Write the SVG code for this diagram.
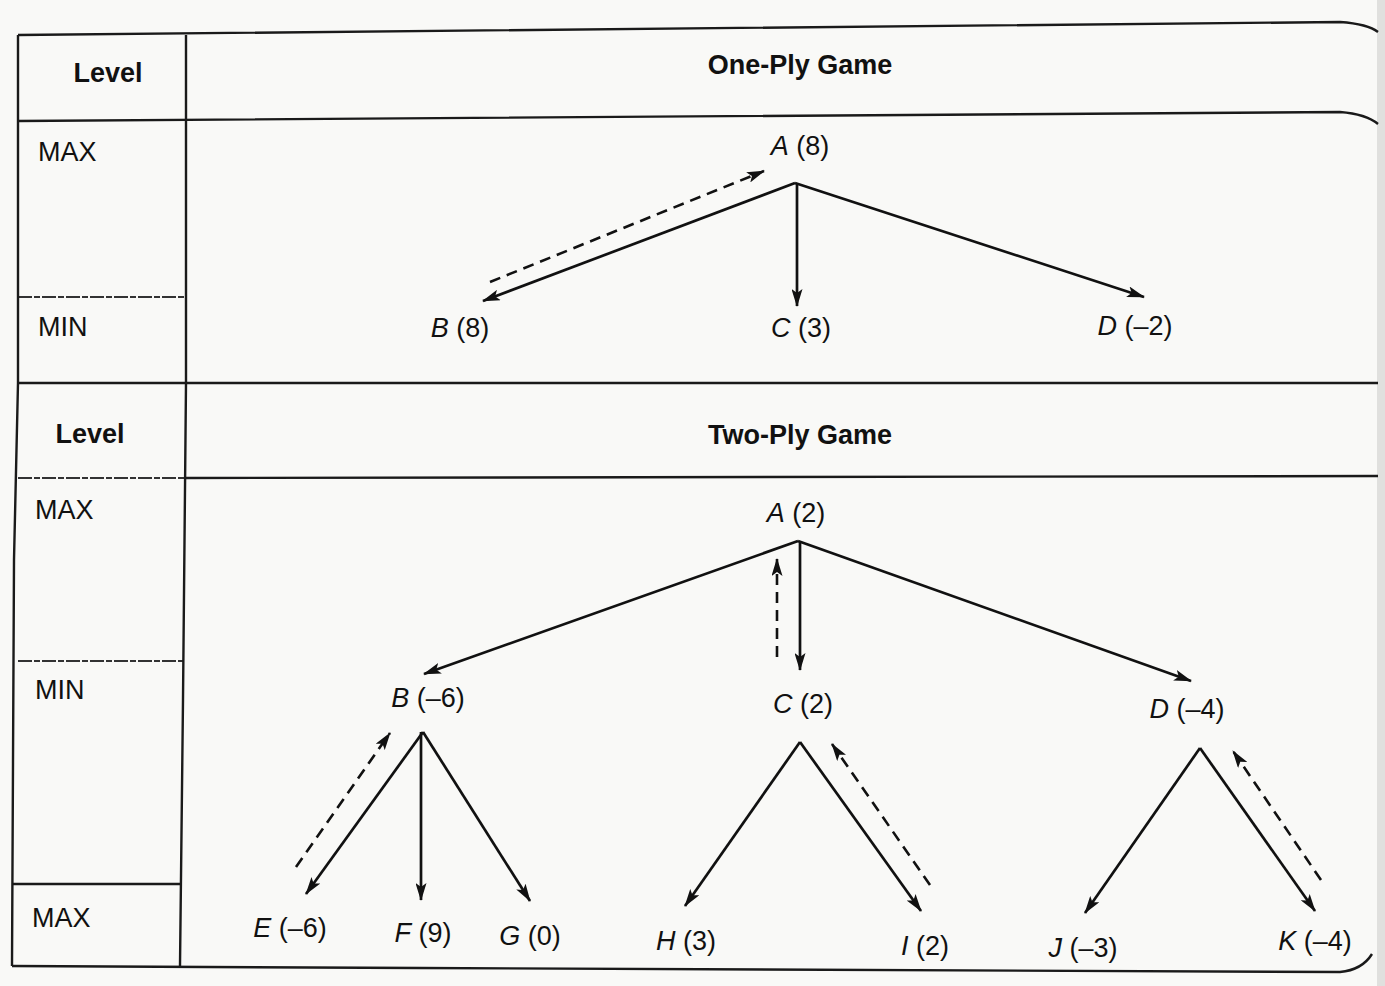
<svg xmlns="http://www.w3.org/2000/svg" width="1385" height="986" viewBox="0 0 1385 986">
  <defs>
    <marker id="head" viewBox="0 0 18 11" refX="17" refY="5.5" markerWidth="18" markerHeight="11" markerUnits="userSpaceOnUse" orient="auto">
      <path d="M0,0 L18,5.5 L0,11 L4,5.5 Z" fill="#111"/>
    </marker>
    <style>
      .grid { stroke: #1a1a1a; stroke-width: 2.4; fill: none; }
      .gridlt { stroke: #333; stroke-width: 1.8; fill: none; stroke-dasharray: 14 2 6 2; }
      .edge { stroke: #111; stroke-width: 2.7; fill: none; marker-end: url(#head); }
      .back { stroke: #111; stroke-width: 2.6; fill: none; stroke-dasharray: 11 7; marker-end: url(#head); }
      text { font-family: "Liberation Sans", Arial, Helvetica, sans-serif; font-size: 27px; fill: #111; }
      .hd { font-weight: bold; font-size: 27px; }
      .node { text-anchor: middle; }
      .it { font-style: italic; }
    </style>
  </defs>

  <!-- paper -->
  <rect x="0" y="0" width="1385" height="986" fill="#f9f9f7"/>
  <rect x="1377" y="0" width="8" height="986" fill="#e0e0de"/>

  <!-- table frame -->
  <g id="table">
    <path class="grid" d="M18,35 L1340,22 Q1368,24 1378,32"/>
    <path class="grid" d="M18,121 L1340,112 Q1366,114 1378,124"/>
    <path class="grid" d="M18,383 L1378,383"/>
    <path class="grid" d="M186,478 L1378,476"/>
    <path class="gridlt" d="M18,478 L186,478"/>
    <path class="gridlt" d="M18,297 L186,297"/>
    <path class="gridlt" d="M18,661 L184,661"/>
    <path class="grid" d="M12,884 L181,884"/>
    <path class="grid" d="M18,35 L18,383 L14,560 L12,966"/>
    <path class="grid" d="M186,35 L186,383 L183,700 L180,966"/>
    <path class="grid" d="M12,966 L420,968 L1340,972 Q1362,970 1372,954"/>
  </g>

  <!-- column and level labels -->
  <g id="labels">
    <text class="hd" x="108" y="82" text-anchor="middle">Level</text>
    <text class="hd" x="800" y="74" text-anchor="middle">One-Ply Game</text>
    <text x="38" y="161">MAX</text>
    <text x="38" y="336">MIN</text>
    <text class="hd" x="90" y="443" text-anchor="middle">Level</text>
    <text class="hd" x="800" y="444" text-anchor="middle">Two-Ply Game</text>
    <text x="35" y="519">MAX</text>
    <text x="35" y="699">MIN</text>
    <text x="32" y="927">MAX</text>
  </g>

  <!-- connectors -->
  <g id="connectors">
    <!-- one-ply -->
    <line class="edge" x1="795" y1="183" x2="483" y2="301"/>
    <line class="edge" x1="797" y1="183" x2="797" y2="306"/>
    <line class="edge" x1="795" y1="183" x2="1144" y2="297"/>
    <line class="back" x1="490" y1="282" x2="764" y2="171"/>
    <!-- two-ply, root -->
    <line class="edge" x1="798" y1="541" x2="424" y2="674"/>
    <line class="edge" x1="800" y1="541" x2="800" y2="670"/>
    <line class="edge" x1="798" y1="541" x2="1191" y2="681"/>
    <line class="back" x1="777" y1="657" x2="777" y2="559"/>
    <!-- B subtree -->
    <line class="edge" x1="423" y1="732" x2="306" y2="894"/>
    <line class="edge" x1="421" y1="732" x2="421" y2="900"/>
    <line class="edge" x1="423" y1="732" x2="530" y2="901"/>
    <line class="back" x1="296" y1="867" x2="390" y2="733"/>
    <!-- C subtree -->
    <line class="edge" x1="800" y1="742" x2="685" y2="906"/>
    <line class="edge" x1="800" y1="742" x2="921" y2="911"/>
    <line class="back" x1="930" y1="885" x2="832" y2="744"/>
    <!-- D subtree -->
    <line class="edge" x1="1200" y1="748" x2="1085" y2="913"/>
    <line class="edge" x1="1200" y1="748" x2="1315" y2="911"/>
    <line class="back" x1="1321" y1="880" x2="1233" y2="751"/>
  </g>

  <!-- one-ply nodes -->
  <g id="n1-A"><text class="node" x="800" y="155"><tspan class="it">A</tspan> (8)</text></g>
  <g id="n1-B"><text class="node" x="460" y="337"><tspan class="it">B</tspan> (8)</text></g>
  <g id="n1-C"><text class="node" x="801" y="337"><tspan class="it">C</tspan> (3)</text></g>
  <g id="n1-D"><text class="node" x="1135" y="335"><tspan class="it">D</tspan> (–2)</text></g>

  <!-- two-ply nodes -->
  <g id="n2-A"><text class="node" x="796" y="522"><tspan class="it">A</tspan> (2)</text></g>
  <g id="n2-B"><text class="node" x="428" y="707"><tspan class="it">B</tspan> (–6)</text></g>
  <g id="n2-C"><text class="node" x="803" y="713"><tspan class="it">C</tspan> (2)</text></g>
  <g id="n2-D"><text class="node" x="1187" y="718"><tspan class="it">D</tspan> (–4)</text></g>
  <g id="n2-E"><text class="node" x="290" y="937"><tspan class="it">E</tspan> (–6)</text></g>
  <g id="n2-F"><text class="node" x="423" y="942"><tspan class="it">F</tspan> (9)</text></g>
  <g id="n2-G"><text class="node" x="530" y="945"><tspan class="it">G</tspan> (0)</text></g>
  <g id="n2-H"><text class="node" x="686" y="950"><tspan class="it">H</tspan> (3)</text></g>
  <g id="n2-I"><text class="node" x="925" y="955"><tspan class="it">I</tspan> (2)</text></g>
  <g id="n2-J"><text class="node" x="1083" y="957"><tspan class="it">J</tspan> (–3)</text></g>
  <g id="n2-K"><text class="node" x="1315" y="950"><tspan class="it">K</tspan> (–4)</text></g>
</svg>
